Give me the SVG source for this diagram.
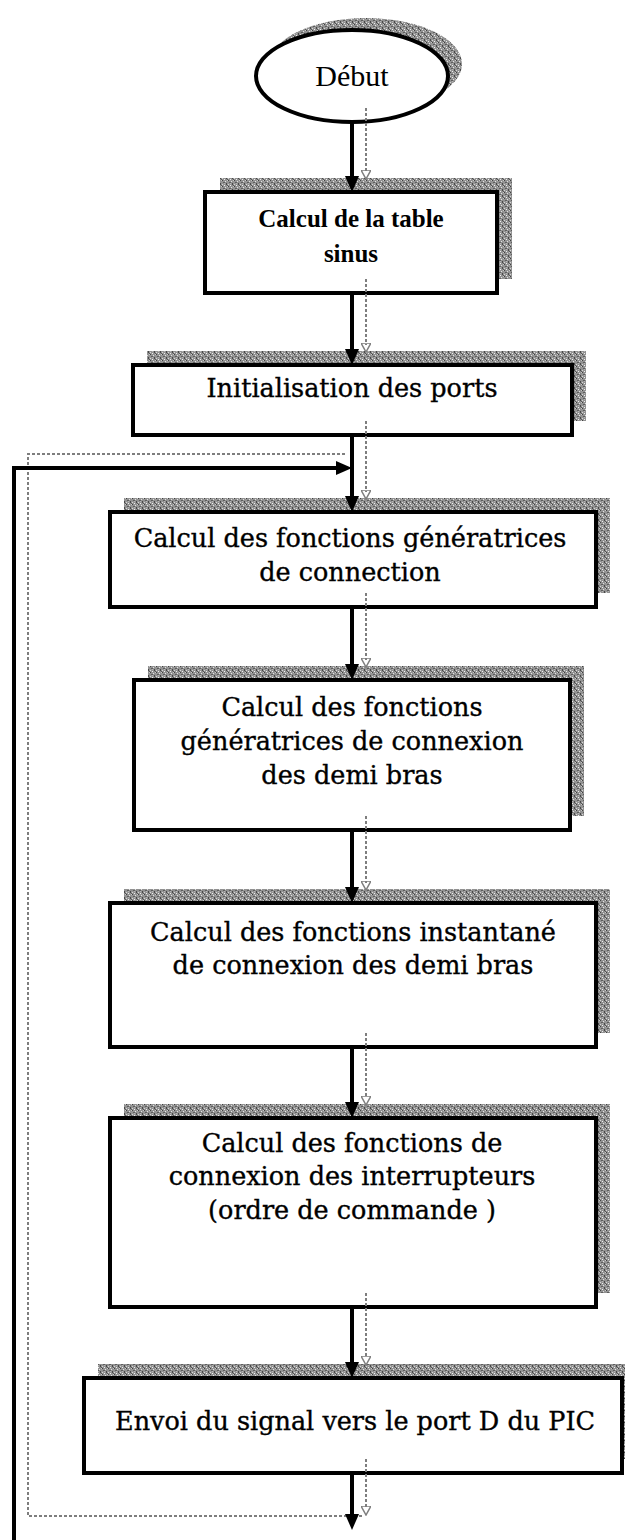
<svg xmlns="http://www.w3.org/2000/svg" width="625" height="1540" viewBox="0 0 625 1540">
  <style>
    .box { fill: #ffffff; stroke: #000000; stroke-width: 4; }
    .shadow { fill: url(#grain); stroke: none; }
    .flow { fill: none; stroke: #000000; stroke-width: 4; marker-end: url(#head); }
    .ghost { fill: none; stroke: #7e7e7e; stroke-width: 2; stroke-dasharray: 3 2; marker-end: url(#ghostHead); }
    .lbl { font-family: "DejaVu Serif", "Liberation Serif", serif; font-size: 25.5px; fill: #000000; stroke: #000000; stroke-width: 0.35; text-anchor: middle; }
    .lblBold { font-family: "Liberation Serif", "DejaVu Serif", serif; font-size: 25px; font-weight: bold; fill: #000000; text-anchor: middle; }
    .lblStart { font-family: "Liberation Serif", "DejaVu Serif", serif; font-size: 30px; fill: #000000; text-anchor: middle; }
  </style>
  <defs>
    <!-- mottled grey used for the drop shadows -->
    <pattern id="grain" width="6" height="6" patternUnits="userSpaceOnUse">
      <rect width="6" height="6" fill="#929292"/>
      <rect x="0" y="0" width="1" height="1" fill="#404040"/>
      <rect x="3" y="1" width="1" height="1" fill="#e2e2e2"/>
      <rect x="1" y="2" width="2" height="1" fill="#5e5e5e"/>
      <rect x="4" y="3" width="1" height="2" fill="#484848"/>
      <rect x="0" y="4" width="1" height="1" fill="#d6d6d6"/>
      <rect x="2" y="5" width="1" height="1" fill="#f0f0f0"/>
      <rect x="5" y="0" width="1" height="1" fill="#c8c8c8"/>
      <rect x="2" y="3" width="1" height="1" fill="#b5b5b5"/>
      <rect x="5" y="5" width="1" height="1" fill="#565656"/>
    </pattern>
    <marker id="head" viewBox="0 0 16 14" refX="0" refY="7" markerWidth="16" markerHeight="14" markerUnits="userSpaceOnUse" orient="auto">
      <path d="M0,0 L16,7 L0,14 z" fill="#000000"/>
    </marker>
    <marker id="ghostHead" viewBox="0 0 10 10" refX="2" refY="5" markerWidth="10" markerHeight="10" markerUnits="userSpaceOnUse" orient="auto">
      <path d="M0,0 L9,5 L0,10 z" fill="none" stroke="#7e7e7e" stroke-width="1.5"/>
    </marker>
  </defs>

  <!-- start terminal -->
  <g id="start">
    <ellipse class="shadow" cx="366" cy="64" rx="96" ry="46"/>
    <ellipse class="box" cx="352" cy="76" rx="96" ry="46"/>
    <text class="lblStart" x="352" y="86">Début</text>
  </g>

  <g id="sineTable">
    <rect class="shadow" x="220" y="178" width="292" height="101"/>
    <rect class="box" x="205" y="192" width="292" height="101"/>
    <text class="lblBold" x="351" y="227">Calcul de la table</text>
    <text class="lblBold" x="351" y="262">sinus</text>
  </g>

  <g id="initPorts">
    <rect class="shadow" x="147" y="351" width="439" height="70"/>
    <rect class="box" x="133" y="365" width="439" height="70"/>
    <text class="lbl" x="352" y="397">Initialisation des ports</text>
  </g>

  <g id="genConnection">
    <rect class="shadow" x="124" y="498" width="486" height="95"/>
    <rect class="box" x="110" y="512" width="486" height="95"/>
    <text class="lbl" x="350" y="547">Calcul des fonctions génératrices</text>
    <text class="lbl" x="350" y="581">de connection</text>
  </g>

  <g id="genHalfArms">
    <rect class="shadow" x="148" y="666" width="436" height="150"/>
    <rect class="box" x="134" y="680" width="436" height="150"/>
    <text class="lbl" x="352" y="716">Calcul des fonctions</text>
    <text class="lbl" x="352" y="750">génératrices de connexion</text>
    <text class="lbl" x="352" y="784">des demi bras</text>
  </g>

  <g id="instantHalfArms">
    <rect class="shadow" x="124" y="889" width="486" height="144"/>
    <rect class="box" x="110" y="903" width="486" height="144"/>
    <text class="lbl" x="353" y="941">Calcul des fonctions instantané</text>
    <text class="lbl" x="353" y="974">de connexion des demi bras</text>
  </g>

  <g id="switchOrders">
    <rect class="shadow" x="124" y="1104" width="486" height="189"/>
    <rect class="box" x="110" y="1118" width="486" height="189"/>
    <text class="lbl" x="352" y="1152">Calcul des fonctions de</text>
    <text class="lbl" x="352" y="1185">connexion des interrupteurs</text>
    <text class="lbl" x="352" y="1219">(ordre de commande )</text>
  </g>

  <g id="sendPortD">
    <rect class="shadow" x="98" y="1364" width="538" height="95"/>
    <rect class="box" x="84" y="1378" width="538" height="95"/>
    <text class="lbl" x="355" y="1430">Envoi du signal vers le port D du PIC</text>
  </g>

  <!-- connectors: grey shadow strokes first, then the black arrows -->
  <g id="connectors">
    <path class="ghost" d="M366 108 V172"/>
    <path class="ghost" d="M366 279 V345"/>
    <path class="ghost" d="M366 421 V492"/>
    <path class="ghost" d="M366 593 V660"/>
    <path class="ghost" d="M366 816 V883"/>
    <path class="ghost" d="M366 1033 V1098"/>
    <path class="ghost" d="M366 1293 V1358"/>
    <path class="ghost" d="M366 1459 V1508"/>
    <path fill="none" stroke="#7e7e7e" stroke-width="2" stroke-dasharray="3 2" d="M362 1516 H28 V454 H345"/>

    <path class="flow" d="M352 122 V176"/>
    <path class="flow" d="M352 293 V349"/>
    <path class="flow" d="M352 435 V496"/>
    <path class="flow" d="M352 607 V664"/>
    <path class="flow" d="M352 830 V887"/>
    <path class="flow" d="M352 1047 V1102"/>
    <path class="flow" d="M352 1307 V1362"/>
    <path class="flow" d="M352 1473 V1514"/>
    <path class="flow" d="M14 1542 V468 H336"/>
  </g>
</svg>
